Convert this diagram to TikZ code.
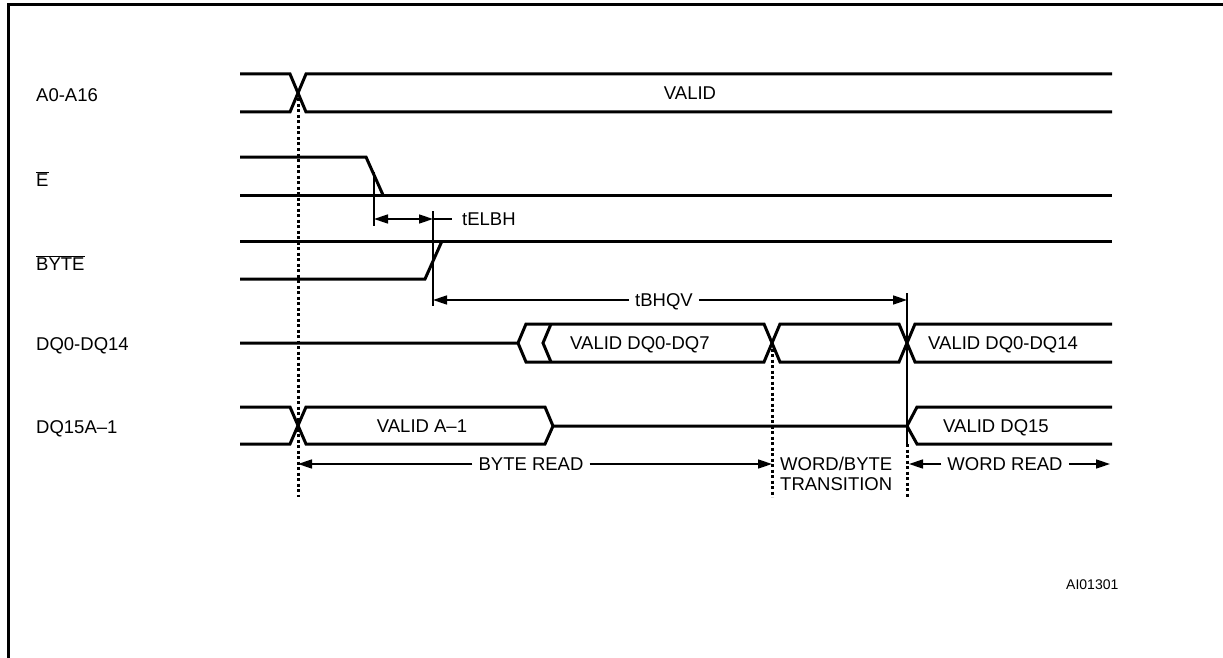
\documentclass[tikz,border=0pt]{standalone}
\usepackage{fontspec}
\setmainfont{Liberation Sans}
\usetikzlibrary{arrows.meta}
\begin{document}
\begin{tikzpicture}[x=1pt,y=-1pt,
  sig/.style={line width=3pt, line join=miter},
  mark line/.style={line width=2.2pt},
  dots/.style={line width=3pt, dash pattern=on 3pt off 2.5pt},
  lbl/.style={font=\fontsize{18.5}{21}\selectfont, inner sep=0pt, text height=13pt, text depth=0pt},
  gaplbl/.style={lbl, inner xsep=6pt},
  dim/.style={line width=1.6pt, -{Triangle[length=14pt,width=9pt]}},
  plain dim/.style={line width=1.6pt}
]
\useasboundingbox (0,0) rectangle (1223,658);
% frame
\draw[line width=3pt] (8,658) -- (8,5) -- (1223,5);

% ---------- signal labels ----------
\node[lbl,anchor=west] (lA)  at (36,95)  {A0-A16};
\node[lbl,anchor=west] (lE)  at (36,180) {$\overline{\hbox{E}}$};
\node[lbl,anchor=west] (lB)  at (36,264) {$\overline{\hbox{BYTE}}$};
\node[lbl,anchor=west] (lD)  at (36,344) {DQ0-DQ14};
\node[lbl,anchor=west] (l15) at (36,427) {DQ15A--1};

% ---------- A0-A16 ----------
\draw[sig] (240,74) -- (290,74) -- (306,112) -- (1112,112);
\draw[sig] (240,112) -- (290,112) -- (306,74) -- (1112,74);
\node[lbl] (vA) at (690,93) {VALID};

% ---------- E ----------
\draw[sig] (240,157) -- (366,157) -- (383,195);
\draw[sig] (240,195) -- (1112,195);

% ---------- BYTE ----------
\draw[sig] (240,241) -- (1112,241);
\draw[sig] (240,279) -- (425,279) -- (442,241);

% ---------- DQ0-DQ14 ----------
\draw[sig] (240,343) -- (518,343) -- (526,324) -- (764,324) -- (780,362) -- (899,362) -- (915,324) -- (1112,324);
\draw[sig] (518,343) -- (526,362) -- (764,362) -- (780,324) -- (899,324) -- (915,362) -- (1112,362);
\draw[sig] (551,324) -- (543,343) -- (551,362);
\node[lbl,anchor=west] (vD7)  at (570,343) {VALID DQ0-DQ7};
\node[lbl,anchor=west] (vD14) at (928,343) {VALID DQ0-DQ14};

% ---------- DQ15A-1 ----------
\draw[sig] (240,407) -- (290,407) -- (306,444) -- (545,444) -- (553,426) -- (907,426) -- (917,407) -- (1112,407);
\draw[sig] (240,444) -- (290,444) -- (306,407) -- (545,407) -- (553,426);
\draw[sig] (907,426) -- (917,444) -- (1112,444);
\node[lbl] (vA1)  at (422,426) {VALID A--1};
\node[lbl] (vD15) at (996,426) {VALID DQ15};

% ---------- timing markers ----------
\coordinate (m1t) at (298,93);   \coordinate (m1b) at (298,497);
\coordinate (m2t) at (772,343);  \coordinate (m2b) at (772,497);
\coordinate (m3t) at (907,293);  \coordinate (m3m) at (907,444); \coordinate (m3b) at (907,497);
\coordinate (eT) at (374,172);   \coordinate (eB) at (374,226);
\coordinate (bT) at (433,211);   \coordinate (bB) at (433,306);
\draw[dots] (m1t) -- (m1b);
\draw[dots] (m2t) -- (m2b);
\draw[mark line] (m3t) -- (m3m);
\draw[dots] (m3m) -- (m3b);
\draw[mark line] (eT) -- (eB);
\draw[mark line] (bT) -- (bB);

% tELBH
\coordinate (te1) at (374,219); \coordinate (te2) at (433,219); \coordinate (te3) at (452,219);
\draw[dim,{Triangle[length=14pt,width=9pt]}-{Triangle[length=14pt,width=9pt]}] (te1) -- (te2);
\draw[plain dim] (te2) -- (te3);
\node[lbl,anchor=west] (tELBH) at (462,219) {tELBH};

% tBHQV
\coordinate (tb1) at (433,300); \coordinate (tb2) at (907,300);
\node[gaplbl] (tBHQV) at (664,300) {tBHQV};
\draw[dim] (tBHQV.west) -- (tb1);
\draw[dim] (tBHQV.east) -- (tb2);

% ---------- phases ----------
\coordinate (p1) at (298,464); \coordinate (p2) at (772,464);
\coordinate (p3) at (909,464); \coordinate (p4) at (1110,464);
\node[gaplbl] (br) at (531,464) {BYTE READ};
\draw[dim] (br.west) -- (p1);
\draw[dim] (br.east) -- (p2);
\node[lbl,anchor=west] (wb) at (780,464) {WORD/BYTE};
\node[lbl,anchor=west] (tr) at (780,484) {TRANSITION};
\node[gaplbl] (wr) at (1005,464) {WORD READ};
\draw[dim] (wr.west) -- (p3);
\draw[dim] (wr.east) -- (p4);

\node[font=\fontsize{14}{16}\selectfont, inner sep=0pt, anchor=west] (ai) at (1066,585) {AI01301};
\end{tikzpicture}
\end{document}
